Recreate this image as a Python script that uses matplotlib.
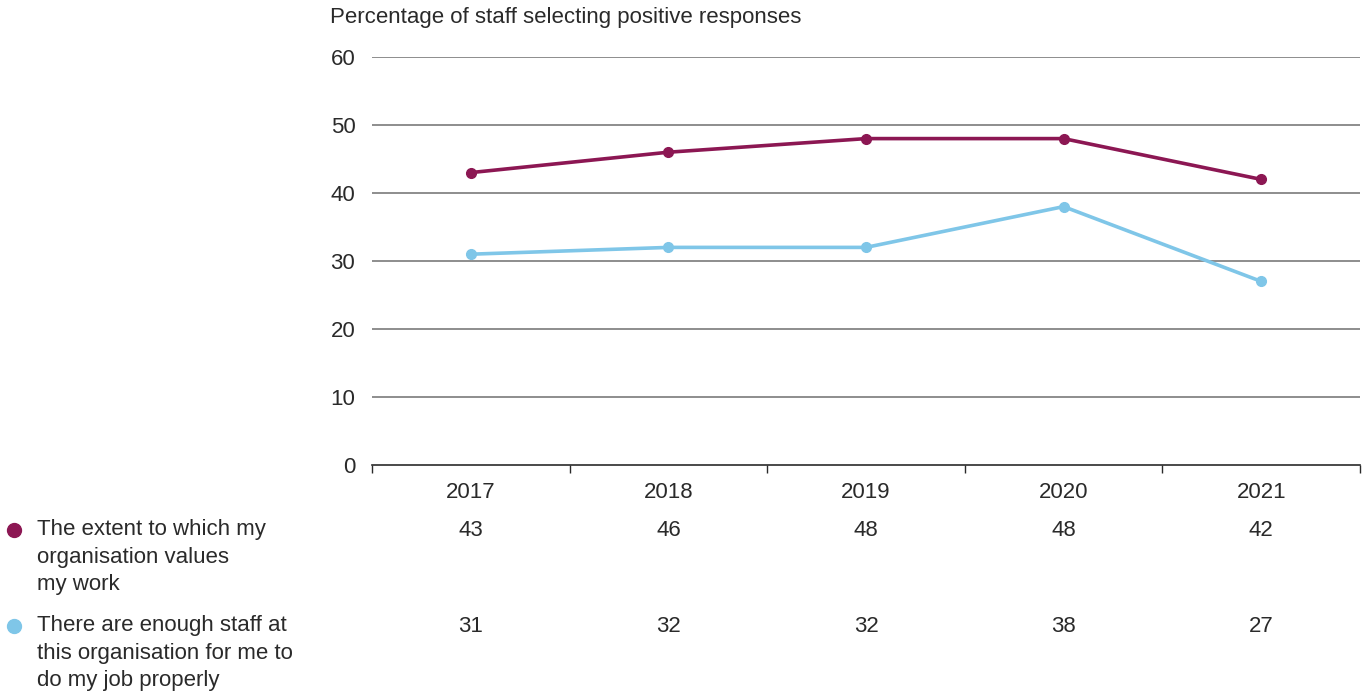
import matplotlib.pyplot as plt
from matplotlib.transforms import blended_transform_factory

years = ["2017", "2018", "2019", "2020", "2021"]
valued = [43, 46, 48, 48, 42]
enough_staff = [31, 32, 32, 38, 27]
labels = ["The extent to which my\norganisation values\nmy work",
          "There are enough staff at\nthis organisation for me to\ndo my job properly"]

plum = "#8c1753"
sky = "#7fc6e8"
text_col = "#2a2a2a"
fs = 16

plt.rcParams["font.family"] = ["Liberation Sans", "DejaVu Sans"]

fig = plt.figure(figsize=(13.68, 6.93), dpi=100)
ax = fig.add_axes([372 / 1368, 1 - 465 / 693, 988 / 1368, 408 / 693])

x = list(range(len(years)))
ax.plot(x, valued, color=plum, lw=2.6, marker="o", ms=7, zorder=3)
ax.plot(x, enough_staff, color=sky, lw=2.6, marker="o", ms=7, zorder=3)

ax.set_xlim(-0.5, len(years) - 0.5)
ax.set_ylim(0, 60)
ax.set_yticks(range(0, 61, 10))
for v in range(10, 61, 10):
    ax.axhline(v, color="#7a7a7a", lw=1.2, zorder=1)

# category boundaries get the tick marks, labels sit in the middle
ax.set_xticks([i - 0.5 for i in range(len(years) + 1)])
ax.set_xticklabels([])
ax.set_xticks(x, minor=True)
ax.set_xticklabels(years, minor=True, fontsize=fs, color=text_col)
ax.tick_params(axis="x", which="major", length=6, width=1, color=text_col, direction="out")
ax.tick_params(axis="x", which="minor", length=0, pad=12)
ax.tick_params(axis="y", length=0, pad=12, labelsize=fs, labelcolor=text_col)

for s in ["top", "right", "left"]:
    ax.spines[s].set_visible(False)
ax.spines["bottom"].set_color(text_col)
ax.spines["bottom"].set_linewidth(1.2)

fig.text(330 / 1368, 1 - 18 / 693, "Percentage of staff selecting positive responses",
         fontsize=fs, color=text_col, va="center", ha="left")

# data table under the chart
tr = blended_transform_factory(ax.transData, fig.transFigure)
rows_y = [1 - 530 / 693, 1 - 626 / 693]
for series, yy, col, lab in zip([valued, enough_staff], rows_y, [plum, sky], labels):
    for i, v in enumerate(series):
        ax.text(i, yy, str(v), transform=tr, ha="center", va="center",
                fontsize=fs, color=text_col)
    fig.text(37 / 1368, yy - 27 / 693, lab, ha="left", va="center", fontsize=fs,
             color=text_col, linespacing=1.38)
    fig.add_artist(plt.Line2D([14 / 1368], [yy], marker="o", ms=10, color=col,
                              transform=fig.transFigure))

fig.savefig("out.png", dpi=100)
